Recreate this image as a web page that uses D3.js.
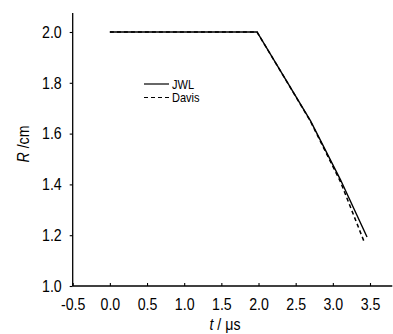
<!DOCTYPE html>
<html>
<head>
<meta charset="utf-8">
<script src="https://cdn.jsdelivr.net/npm/d3@7"></script>
<style>
  html, body { margin: 0; padding: 0; background: #fff; }
  svg { display: block; }
  text { font-family: "Liberation Sans", Arial, sans-serif; fill: #000; }
</style>
</head>
<body>
<svg id="chart" width="393" height="334"></svg>
<script>
// Radius history of the expanding shell for two product equations of state
const seriesNames = ["JWL", "Davis"];
const jwlT = [0.0, 1.98, 2.35, 2.7, 3.1, 3.46];
const jwlR = [2.0, 2.0, 1.82, 1.65, 1.42, 1.193];
const davisT = [0.0, 1.98, 2.35, 2.7, 3.1, 3.42];
const davisR = [2.0, 2.0, 1.82, 1.648, 1.412, 1.175];
const xTicks = [-0.5, 0.0, 0.5, 1.0, 1.5, 2.0, 2.5, 3.0, 3.5];
const yTicks = [1.0, 1.2, 1.4, 1.6, 1.8, 2.0];

const SX = 0.86; // horizontal squeeze for a condensed look
const fmt = d => d.toFixed(1); // plain hyphen for negatives

const svg = d3.select("#chart");

const x = d3.scaleLinear().domain([-0.5, 3.5]).range([72.7, 370]);
const y = d3.scaleLinear().domain([1.0, 2.0]).range([286, 32]);
const xEnd = 3.8, yEnd = 2.075;

// x axis: short ticks pointing into the plot
const gx = svg.append("g").attr("transform", `translate(0,${y(1.0)})`)
  .call(d3.axisBottom(x).tickValues(xTicks).tickFormat(fmt)
        .tickSizeInner(-3).tickSizeOuter(0).tickPadding(12));
gx.select(".domain").remove();
gx.append("line").attr("x1", x(-0.5)).attr("x2", x(xEnd))
  .attr("stroke", "#000").attr("stroke-width", 1.3);
gx.selectAll(".tick line").attr("stroke-width", 1.1);
gx.selectAll(".tick text").attr("font-size", 16.5).attr("fill", "#000")
  .attr("transform", `scale(${SX},1)`);

// y axis: ticks pointing outward
const gy = svg.append("g").attr("transform", `translate(${x(-0.5)},0)`)
  .call(d3.axisLeft(y).tickValues(yTicks).tickFormat(fmt)
        .tickSizeInner(3).tickSizeOuter(0).tickPadding(8));
gy.select(".domain").remove();
gy.append("line").attr("y1", y(1.0)).attr("y2", y(yEnd))
  .attr("stroke", "#000").attr("stroke-width", 1.3);
gy.selectAll(".tick line").attr("stroke-width", 1.1);
gy.selectAll(".tick text").attr("font-size", 16.5).attr("fill", "#000")
  .attr("x", -11 / SX)
  .attr("transform", `scale(${SX},1)`);

// axis titles
const yTitle = svg.append("text")
  .attr("transform", `translate(29,144) rotate(-90) scale(${SX},1)`)
  .attr("text-anchor", "middle").attr("font-size", 16.5);
yTitle.append("tspan").attr("font-style", "italic").text("R");
yTitle.append("tspan").text(" /cm");

const xTitle = svg.append("text")
  .attr("transform", `translate(225,330) scale(${SX},1)`)
  .attr("text-anchor", "middle").attr("font-size", 16.5);
xTitle.append("tspan").attr("font-style", "italic").text("t");
xTitle.append("tspan").text(" / \u03bcs");

// curves
const line = d3.line().x(d => x(d[0])).y(d => y(d[1]));
const jwl = jwlT.map((t, i) => [t, jwlR[i]]);
const davis = davisT.map((t, i) => [t, davisR[i]]);

svg.append("path").datum(davis).attr("d", line)
  .attr("fill", "none").attr("stroke", "#000").attr("stroke-width", 1.5)
  .attr("stroke-dasharray", "4,3");
svg.append("path").datum(jwl).attr("d", line)
  .attr("fill", "none").attr("stroke", "#000").attr("stroke-width", 1.4);

// legend
const legend = svg.append("g");
const dashes = [null, "4,3"];
seriesNames.forEach((name, i) => {
  const yy = 84 + i * 13.5;
  legend.append("line").attr("x1", 144).attr("x2", 169)
    .attr("y1", yy).attr("y2", yy)
    .attr("stroke", "#000").attr("stroke-width", 1.2)
    .attr("stroke-dasharray", dashes[i]);
  legend.append("text")
    .attr("transform", `translate(172,${yy + 4.5}) scale(0.92,1)`)
    .attr("font-size", 12).text(name);
});
</script>
</body>
</html>
